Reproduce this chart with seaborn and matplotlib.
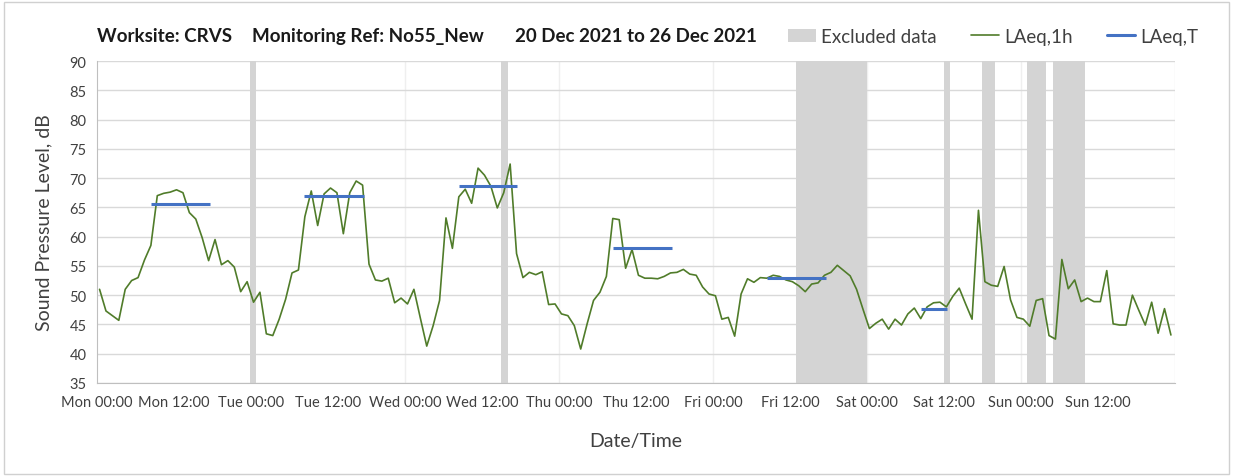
import matplotlib
matplotlib.use("Agg")
import matplotlib.pyplot as plt
from matplotlib.patches import Patch, Rectangle
from matplotlib.lines import Line2D
import numpy as np
import pandas as pd
import seaborn as sns

# hourly LAeq,1h values, Mon 00:00 .. Sun 23:00 (168 hours)
laeq_1h = [
    51.0, 47.3, 46.5, 45.7, 51.0, 52.5, 53.0, 56.0, 58.5, 67.0, 67.4, 67.6,
    68.0, 67.5, 64.1, 63.0, 59.8, 55.9, 59.5, 55.2, 55.9, 54.8, 50.6, 52.3,
    48.8, 50.5, 43.4, 43.1, 45.9, 49.3, 53.8, 54.3, 63.4, 67.8, 61.9, 67.3,
    68.3, 67.5, 60.5, 67.5, 69.5, 68.8, 55.3, 52.6, 52.4, 52.9, 48.7, 49.5,
    48.5, 51.0, 46.1, 41.3, 44.8, 49.1, 63.2, 58.0, 66.8, 68.1, 65.7, 71.7,
    70.5, 68.6, 64.9, 67.5, 72.4, 57.1, 53.0, 53.9, 53.5, 54.0, 48.4, 48.5,
    46.8, 46.5, 44.8, 40.8, 45.1, 49.1, 50.5, 53.2, 63.1, 62.9, 54.6, 57.8,
    53.4, 52.9, 52.9, 52.8, 53.2, 53.8, 53.9, 54.4, 53.6, 53.4, 51.4, 50.2,
    49.9, 45.9, 46.2, 43.0, 50.2, 52.8, 52.2, 53.0, 52.9, 53.4, 53.2, 52.6,
    52.3, 51.6, 50.6, 51.9, 52.1, 53.4, 53.9, 55.1, 54.2, 53.3, 51.0, 47.6,
    44.3, 45.2, 45.9, 44.2, 45.9, 44.9, 46.8, 47.8, 46.0, 48.0, 48.7, 48.8,
    48.0, 49.8, 51.2, 48.5, 45.9, 64.5, 52.3, 51.7, 51.5, 54.9, 49.2, 46.2,
    45.9, 44.7, 49.1, 49.4, 43.1, 42.5, 56.1, 51.1, 52.6, 48.9, 49.5, 48.9,
    48.9, 54.2, 45.1, 44.9, 44.9, 50.0, 47.4, 44.9, 48.8, 43.5, 47.7, 43.2,
]

# LAeq,T daytime levels (one per day)
laeq_t = [65.5, 67.0, 68.6, 58.0, 52.9, 47.7]
laeq_t_start = [8.4, 32.3, 56.4, 80.4, 104.4, 128.4]
laeq_t_end = [17.6, 41.6, 65.5, 89.6, 113.6, 132.5]

# excluded data periods (hours from Mon 00:00)
excl_start = [23.8, 63.0, 109.0, 132.0, 138.0, 145.0, 149.0]
excl_end = [24.8, 64.0, 120.0, 133.0, 140.0, 148.0, 154.0]

tick_labels = ["Mon 00:00", "Mon 12:00", "Tue 00:00", "Tue 12:00",
               "Wed 00:00", "Wed 12:00", "Thu 00:00", "Thu 12:00",
               "Fri 00:00", "Fri 12:00", "Sat 00:00", "Sat 12:00",
               "Sun 00:00", "Sun 12:00", ""]

title_parts = ["Worksite: CRVS", "Monitoring Ref: No55_New", "20 Dec 2021 to 26 Dec 2021"]

df = pd.DataFrame({"hour": np.arange(len(laeq_1h)) + 0.4, "LAeq,1h": laeq_1h})

sns.set_style("white")
plt.rcParams['font.family'] = ['Lato', 'DejaVu Sans']

green = "#507c2a"
blue = "#4472c4"
band = "#d4d4d4"
txt = "#404040"

fig, ax = plt.subplots(figsize=(12.34, 4.77), dpi=100)
plt.subplots_adjust(left=0.0786, right=0.952, bottom=0.195, top=0.870)

for s, e in zip(excl_start, excl_end):
    ax.axvspan(s, e, color=band, lw=0, zorder=1)

sns.lineplot(data=df, x="hour", y="LAeq,1h", ax=ax, color=green, lw=1.2, zorder=3)
ax.hlines(laeq_t, laeq_t_start, laeq_t_end, colors=blue, lw=2.2, zorder=4)

ax.set_xlim(0, 168)
ax.set_ylim(35, 90)
ax.set_yticks(range(35, 91, 5))
ax.set_xticks(range(0, 169, 12))
ax.set_xticklabels(tick_labels)
ax.yaxis.grid(True, color="#d9d9d9", lw=1)
for d in range(24, 169, 24):
    ax.axvline(d, color="#efefef", lw=1, zorder=0)
ax.set_axisbelow(True)

for side in ["top", "right"]:
    ax.spines[side].set_visible(False)
for side in ["left", "bottom"]:
    ax.spines[side].set_color("#bfbfbf")
ax.tick_params(axis="both", colors="#bfbfbf", length=4, labelcolor=txt, labelsize=10.5)
ax.tick_params(axis="x", direction="inout", length=6, pad=6)

ax.set_xlabel("Date/Time", fontsize=14, color=txt, labelpad=16)
ax.set_ylabel("Sound Pressure Level, dB", fontsize=14, color=txt, labelpad=12)

for xpos, part in zip([0.0786, 0.2042, 0.4173], title_parts):
    fig.text(xpos, 0.924, part, fontsize=13.5, fontweight="bold", color="#1a1a1a", va="center")

handles = [Patch(facecolor=band, edgecolor="none"),
           Line2D([], [], color=green, lw=1.2),
           Line2D([], [], color=blue, lw=2.2)]
fig.legend(handles, ["Excluded data", "LAeq,1h", "LAeq,T"], loc="center right",
           bbox_to_anchor=(0.985, 0.922), ncol=3, frameon=False, fontsize=13.5,
           handlelength=1.5, columnspacing=1.8, handletextpad=0.3,
           labelcolor=txt)

fig.add_artist(Rectangle((0.003, 0.004), 0.993, 0.99, transform=fig.transFigure,
                         fill=False, edgecolor="#d0d0d0", lw=1))

fig.savefig("out.png", dpi=100)
